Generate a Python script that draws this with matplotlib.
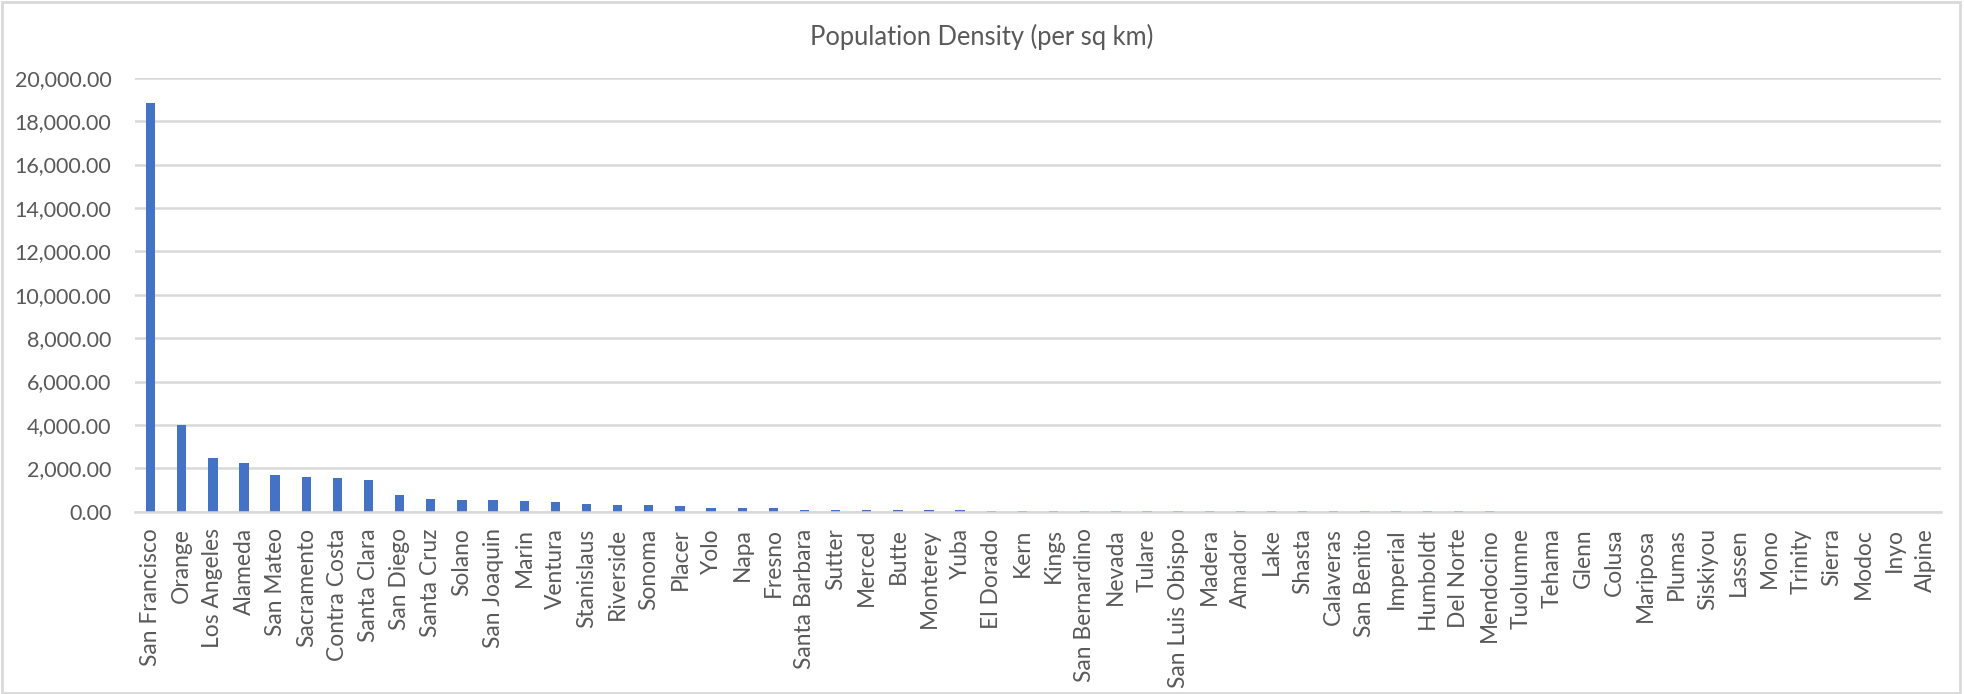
import matplotlib
matplotlib.use("Agg")
import matplotlib.pyplot as plt
from matplotlib.patches import Rectangle
from matplotlib.ticker import FuncFormatter

counties = ["San Francisco", "Orange", "Los Angeles", "Alameda", "San Mateo",
            "Sacramento", "Contra Costa", "Santa Clara", "San Diego", "Santa Cruz",
            "Solano", "San Joaquin", "Marin", "Ventura", "Stanislaus", "Riverside",
            "Sonoma", "Placer", "Yolo", "Napa", "Fresno", "Santa Barbara", "Sutter",
            "Merced", "Butte", "Monterey", "Yuba", "El Dorado", "Kern", "Kings",
            "San Bernardino", "Nevada", "Tulare", "San Luis Obispo", "Madera",
            "Amador", "Lake", "Shasta", "Calaveras", "San Benito", "Imperial",
            "Humboldt", "Del Norte", "Mendocino", "Tuolumne", "Tehama", "Glenn",
            "Colusa", "Mariposa", "Plumas", "Siskiyou", "Lassen", "Mono", "Trinity",
            "Sierra", "Modoc", "Inyo", "Alpine"]
density = [18838, 4000, 2480, 2250, 1690, 1600, 1550, 1460, 770, 590,
           540, 540, 490, 440, 340, 290, 290, 240, 190, 150,
           150, 100, 100, 95, 95, 95, 95, 55, 50, 50,
           50, 50, 50, 45, 25, 22, 20, 18, 17, 17,
           16, 15, 12, 10, 9, 9, 8, 7, 5, 3,
           3, 3, 2, 2, 1.5, 1, 0.8, 0.7]
y_ticks = list(range(0, 20001, 2000))

W, H = 1964, 694
text_col = "#595959"
grid_col = "#D9D9D9"

plt.rcParams["font.family"] = ["Lato", "DejaVu Sans"]

fig = plt.figure(figsize=(W / 100, H / 100), dpi=100)
ax = fig.add_axes([135 / W, 1 - 511.7 / H, (1941 - 135) / W, (511.7 - 77.7) / H])

x = range(len(counties))
ax.bar(x, density, width=0.3, color="#4472C4", zorder=3)

ax.set_xlim(-0.5, len(counties) - 0.5)
ax.set_ylim(0, 20000)
ax.set_yticks(y_ticks)
ax.yaxis.set_major_formatter(FuncFormatter(lambda v, p: f"{v:,.2f}"))
ax.set_xticks(list(x))
ax.set_xticklabels(counties, rotation=90, fontsize=16.4, color=text_col)
ax.tick_params(axis="y", labelsize=15.5, labelcolor=text_col, length=0, pad=17)
ax.tick_params(axis="x", length=0, pad=12)

ax.grid(axis="y", color=grid_col, linewidth=1.8, zorder=0)
for s in ["top", "right", "left"]:
    ax.spines[s].set_visible(False)
ax.spines["bottom"].set_color(grid_col)
ax.spines["bottom"].set_linewidth(1.8)
ax.spines["bottom"].set_zorder(4)

fig.text(0.5, 1 - 37 / H, "Population Density (per sq km)", ha="center", va="center",
         fontsize=18.4, color=text_col)

fig.patches.append(Rectangle((2 / W, 1 / H), 1958 / W, 691 / H, transform=fig.transFigure,
                             fill=False, edgecolor=grid_col, linewidth=2))

fig.savefig("out.png", dpi=100)
